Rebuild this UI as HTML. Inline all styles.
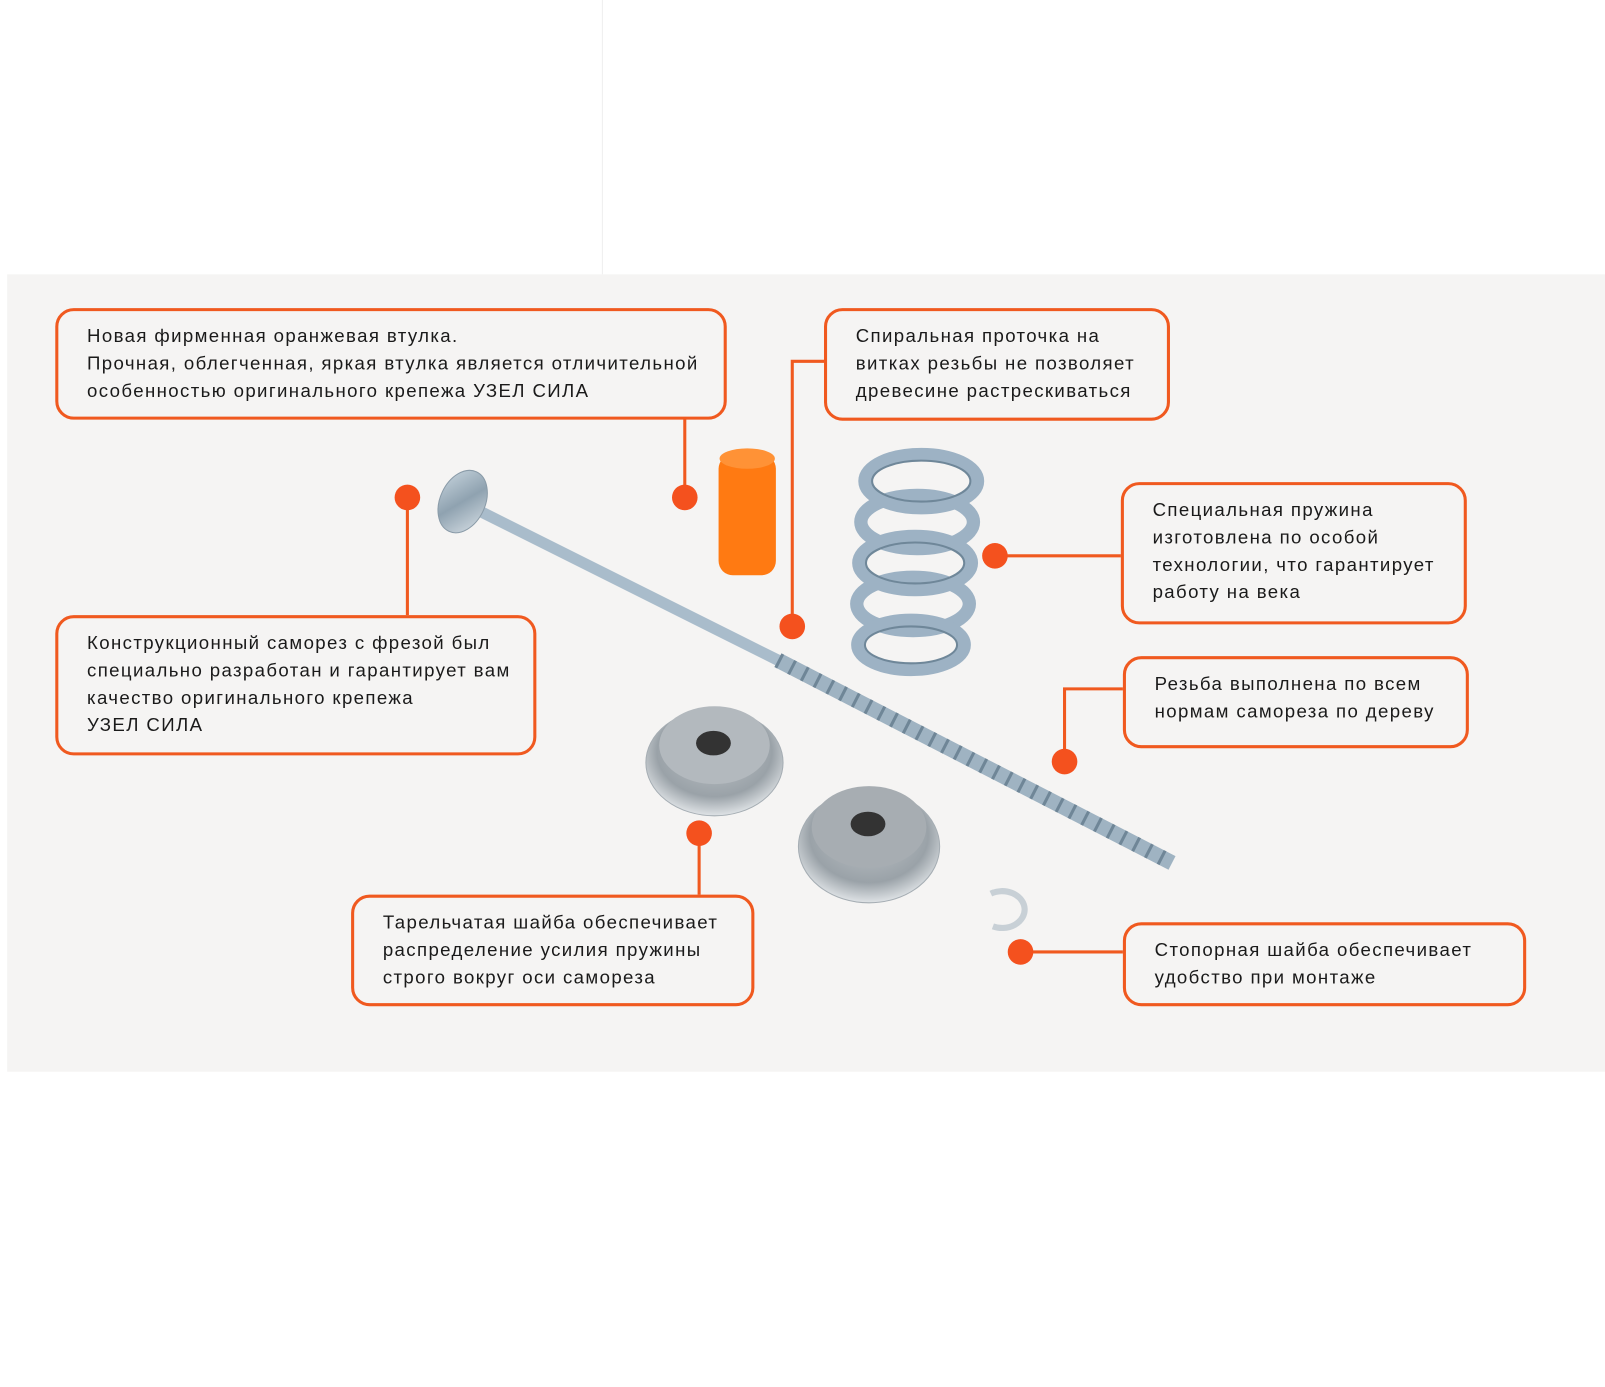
<!DOCTYPE html>
<html><head><meta charset="utf-8"><style>
html,body{margin:0;padding:0;background:#fff;}
body{width:1605px;height:1387px;overflow:hidden;position:relative;}
#w{position:absolute;left:0;top:0;width:1568px;height:1355px;transform:scale(1.0236);transform-origin:0 0;font-family:"Liberation Sans",sans-serif;}
.g{position:absolute;left:7px;top:268px;width:1561px;height:779px;background:#f5f4f3;}
.vl{position:absolute;left:588px;top:0;width:1px;height:268px;background:#eeeeee;}
.b{position:absolute;border:3px solid #f0591f;border-radius:18px;box-sizing:border-box;padding:11px 0 0 28px;font-size:18.2px;line-height:26.8px;color:#1a1a1a;letter-spacing:1.35px;white-space:nowrap;}
svg{position:absolute;left:0;top:0;}
</style></head><body><div id="w">
<div class="vl"></div>
<div class="g"></div>
<svg width="1568" height="1355" viewBox="0 0 1568 1355">
<defs>
<linearGradient id="m" x1="0" y1="0" x2="1" y2="1"><stop offset="0" stop-color="#c9d6df"/><stop offset="0.5" stop-color="#8fa2b0"/><stop offset="1" stop-color="#d8e0e6"/></linearGradient>
<radialGradient id="wa" cx="0.5" cy="0.4" r="0.6"><stop offset="0" stop-color="#bfc4c8"/><stop offset="0.7" stop-color="#9aa2a8"/><stop offset="1" stop-color="#dfe3e6"/></radialGradient>
</defs>
<line x1="450" y1="490" x2="760" y2="645" stroke="#a9bccb" stroke-width="11" stroke-linecap="round"/>
<line x1="760" y1="645" x2="1145" y2="843" stroke="#9fb3c2" stroke-width="15"/>
<line x1="760" y1="645" x2="1145" y2="843" stroke="#6f8697" stroke-width="15" stroke-dasharray="3 11"/>
<ellipse cx="452" cy="490" rx="22" ry="32" fill="url(#m)" stroke="#8a9ba8" transform="rotate(25 452 490)"/>
<rect x="702" y="444" width="56" height="118" rx="14" fill="#ff7a12"/>
<ellipse cx="730" cy="448" rx="27" ry="10" fill="#ff9236"/>
<g fill="none" stroke="#9db2c4" stroke-width="13">
<ellipse cx="900" cy="470" rx="55" ry="26"/>
<ellipse cx="896" cy="510" rx="55" ry="26"/>
<ellipse cx="894" cy="550" rx="55" ry="26"/>
<ellipse cx="892" cy="590" rx="55" ry="26"/>
<ellipse cx="890" cy="630" rx="52" ry="24"/>
</g>
<g fill="none" stroke="#6f8799" stroke-width="2">
<ellipse cx="900" cy="470" rx="48" ry="20"/>
<ellipse cx="894" cy="550" rx="48" ry="20"/>
<ellipse cx="890" cy="630" rx="45" ry="18"/>
</g>
<ellipse cx="698" cy="745" rx="67" ry="52" fill="url(#wa)" stroke="#a5adb3"/>
<ellipse cx="698" cy="728" rx="54" ry="38" fill="#b3b9be"/>
<ellipse cx="697" cy="726" rx="17" ry="12" fill="#333"/>
<ellipse cx="849" cy="827" rx="69" ry="55" fill="url(#wa)" stroke="#a5adb3"/>
<ellipse cx="849" cy="808" rx="56" ry="40" fill="#a7adb2"/>
<ellipse cx="848" cy="805" rx="17" ry="12" fill="#333"/>
<path d="M968 873 A22 18 0 1 1 970 905" fill="none" stroke="#c8d0d6" stroke-width="6"/>
<g stroke="#f0591f" stroke-width="3" fill="none">
<line x1="669" y1="409" x2="669" y2="486"/>
<line x1="398" y1="486" x2="398" y2="601"/>
<polyline points="774,612 774,353 805,353"/>
<line x1="972" y1="543" x2="1095" y2="543"/>
<polyline points="1040,744 1040,673 1097,673"/>
<line x1="683" y1="814" x2="683" y2="874"/>
<line x1="997" y1="930" x2="1097" y2="930"/>
</g>
<g fill="#f4511e">
<circle cx="669" cy="486" r="12.5"/><circle cx="398" cy="486" r="12.5"/><circle cx="774" cy="612" r="12.5"/>
<circle cx="972" cy="543" r="12.5"/><circle cx="1040" cy="744" r="12.5"/><circle cx="683" cy="814" r="12.5"/><circle cx="997" cy="930" r="12.5"/>
</g>
</svg>
<div class="b" style="left:54px;top:301px;width:656px;height:109px;">Новая фирменная оранжевая втулка.<br>Прочная, облегченная, яркая втулка является отличительной<br>особенностью оригинального крепежа УЗЕЛ СИЛА</div>
<div class="b" style="left:805px;top:301px;width:338px;height:110px;">Спиральная проточка на<br>витках резьбы не позволяет<br>древесине растрескиваться</div>
<div class="b" style="left:1095px;top:471px;width:338px;height:139px;">Специальная пружина<br>изготовлена по особой<br>технологии, что гарантирует<br>работу на века</div>
<div class="b" style="left:1097px;top:641px;width:338px;height:90px;">Резьба выполнена по всем<br>нормам самореза по дереву</div>
<div class="b" style="left:1097px;top:901px;width:394px;height:82px;">Стопорная шайба обеспечивает<br>удобство при монтаже</div>
<div class="b" style="left:54px;top:601px;width:470px;height:137px;">Конструкционный саморез с фрезой был<br>специально разработан и гарантирует вам<br>качество оригинального крепежа<br>УЗЕЛ СИЛА</div>
<div class="b" style="left:343px;top:874px;width:394px;height:109px;">Тарельчатая шайба обеспечивает<br>распределение усилия пружины<br>строго вокруг оси самореза</div>
</div></body></html>
